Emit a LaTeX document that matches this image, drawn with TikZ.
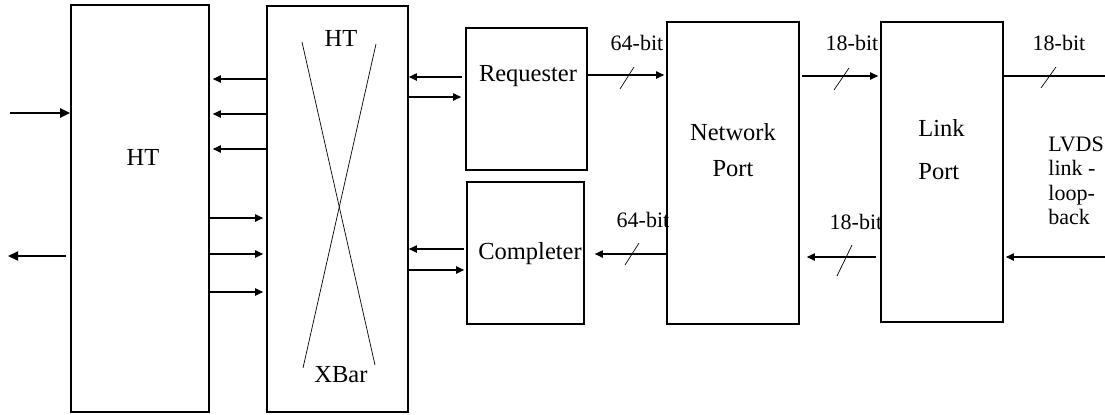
\documentclass[tikz,border=0pt]{standalone}
\usepackage{fontspec}
\setmainfont{Liberation Serif}
\usetikzlibrary{arrows.meta,fit}
\begin{document}
\begin{tikzpicture}[x=0.5pt,y=-0.5pt,
  box/.style={draw, line width=0.8pt, inner sep=0pt},
  lbl/.style={font=\fontsize{12.25}{18}\selectfont, inner sep=0pt},
  bus/.style={font=\fontsize{11}{12.25}\selectfont, inner sep=0pt},
  arr/.style={line width=0.6pt, -{Triangle[length=4pt,width=3.6pt]}},
  bigarr/.style={line width=1.1pt, -{Triangle[length=5pt,width=4.5pt]}},
  wire/.style={line width=0.6pt},
  slash/.style={line width=0.35pt},
  xline/.style={line width=0.35pt}]
\useasboundingbox (0,0) rectangle (1105,414);

% blocks
\node[box, fit={(71,5)(209,412)}] (ht) {};
\node[box, fit={(267,6)(408,412)}] (xbar) {};
\node[box, fit={(466,28)(587,170)}] (req) {};
\node[box, fit={(467,182)(584,324)}] (cmp) {};
\node[box, fit={(667,22)(799,324)}] (net) {};
\node[box, fit={(881,22)(1003,322)}] (link) {};

% crossbar lines
\draw[xline] (302,42) -- (375,365);
\draw[xline] (376,44) -- (303,368);

% block labels
\node[lbl] (htl) at (143,157) {HT};
\node[lbl] (xht) at (341,38) {HT};
\node[lbl] (xbl) at (341,375) {XBar};
\node[lbl] (reql) at (528,76) {Requester};
\node[lbl] (cmpl) at (530,254) {Completer};
\node[lbl, align=center] (netl) at (733,150) {Network\\Port};
\node[lbl, align=left, anchor=west, font=\fontsize{12.25}{21.5}\selectfont] (linkl) at (918,150) {Link\\Port};
\node[bus, align=left, anchor=west] (lvds) at (1048,181) {LVDS\\link -\\loop-\\back};

% bus width labels
\node[bus] (b1) at (637,43) {64-bit};
\node[bus] (b2) at (852,43) {18-bit};
\node[bus] (b3) at (1059,43) {18-bit};
\node[bus] (b4) at (643,220) {64-bit};
\node[bus] (b5) at (856,222) {18-bit};

% free ends
\coordinate (inL) at (10,113);
\coordinate (outL) at (8,256);
\coordinate (rout) at (1105,76);
\coordinate (rin) at (1105,257);

% external HT links
\draw[bigarr] (inL) -- (ht.west |- inL);
\draw[bigarr, shorten <=2pt] (ht.west |- outL) -- (outL);

% HT <-> XBar
\foreach \y in {79,114,149}
  \draw[arr, shorten >=1.5pt] (xbar.west |- 0,\y) -- (ht.east |- 0,\y);
\foreach \y in {218,254,292}
  \draw[arr, shorten >=1.5pt] (ht.east |- 0,\y) -- (xbar.west |- 0,\y);

% XBar <-> Requester / Completer
\draw[arr, shorten <=1.5pt] (req.west |- 0,77) -- (xbar.east |- 0,77);
\draw[arr, shorten >=2pt] (xbar.east |- 0,97) -- (req.west |- 0,97);
\draw[arr, shorten <=1pt] (cmp.west |- 0,249) -- (xbar.east |- 0,249);
\draw[arr, shorten >=1pt] (xbar.east |- 0,270) -- (cmp.west |- 0,270);

% buses
\draw[arr, shorten >=1pt] (req.east |- 0,75) -- (net.west |- 0,75);
\draw[arr, shorten >=5pt] (net.west |- 0,254) -- (cmp.east |- 0,254);
\draw[arr, shorten <=1pt, shorten >=1pt] (net.east |- 0,76) -- (link.west |- 0,76);
\draw[arr, shorten <=2pt, shorten >=3.5pt] (link.west |- 0,257) -- (net.east |- 0,257);
\draw[wire] (link.east |- rout) -- (rout);
\draw[arr, shorten >=1pt] (rin) -- (link.east |- rin);

% bus slashes
\draw[slash] (620,89) -- (634,67);
\draw[slash] (625,265) -- (639,243);
\draw[slash] (834,90) -- (849,68);
\draw[slash] (837,276) -- (852,245);
\draw[slash] (1041,88) -- (1056,67);
\end{tikzpicture}
\end{document}
